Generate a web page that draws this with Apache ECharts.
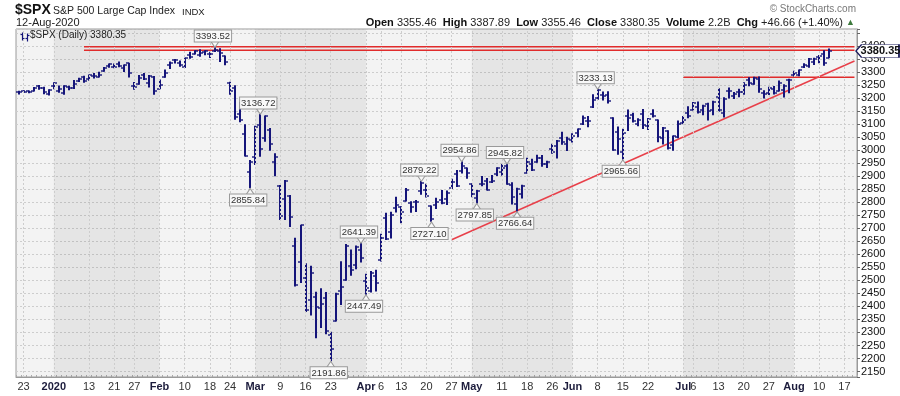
<!DOCTYPE html>
<html><head><meta charset="utf-8">
<script src="https://cdn.jsdelivr.net/npm/echarts@6/dist/echarts.min.js"></script>
<style>html,body{margin:0;padding:0;background:#fff}#c{width:900px;height:396px}</style>
</head><body><div id="c"></div>
<script>
const dates = [
'2019-12-20','2019-12-23','2019-12-24','2019-12-26','2019-12-27','2019-12-30','2019-12-31',
'2020-01-02','2020-01-03','2020-01-06','2020-01-07','2020-01-08','2020-01-09','2020-01-10','2020-01-13','2020-01-14','2020-01-15','2020-01-16','2020-01-17','2020-01-21','2020-01-22','2020-01-23','2020-01-24','2020-01-27','2020-01-28','2020-01-29','2020-01-30','2020-01-31',
'2020-02-03','2020-02-04','2020-02-05','2020-02-06','2020-02-07','2020-02-10','2020-02-11','2020-02-12','2020-02-13','2020-02-14','2020-02-18','2020-02-19','2020-02-20','2020-02-21','2020-02-24','2020-02-25','2020-02-26','2020-02-27','2020-02-28',
'2020-03-02','2020-03-03','2020-03-04','2020-03-05','2020-03-06','2020-03-09','2020-03-10','2020-03-11','2020-03-12','2020-03-13','2020-03-16','2020-03-17','2020-03-18','2020-03-19','2020-03-20','2020-03-23','2020-03-24','2020-03-25','2020-03-26','2020-03-27','2020-03-30','2020-03-31',
'2020-04-01','2020-04-02','2020-04-03','2020-04-06','2020-04-07','2020-04-08','2020-04-09','2020-04-13','2020-04-14','2020-04-15','2020-04-16','2020-04-17','2020-04-20','2020-04-21','2020-04-22','2020-04-23','2020-04-24','2020-04-27','2020-04-28','2020-04-29','2020-04-30',
'2020-05-01','2020-05-04','2020-05-05','2020-05-06','2020-05-07','2020-05-08','2020-05-11','2020-05-12','2020-05-13','2020-05-14','2020-05-15','2020-05-18','2020-05-19','2020-05-20','2020-05-21','2020-05-22','2020-05-26','2020-05-27','2020-05-28','2020-05-29',
'2020-06-01','2020-06-02','2020-06-03','2020-06-04','2020-06-05','2020-06-08','2020-06-09','2020-06-10','2020-06-11','2020-06-12','2020-06-15','2020-06-16','2020-06-17','2020-06-18','2020-06-19','2020-06-22','2020-06-23','2020-06-24','2020-06-25','2020-06-26','2020-06-29','2020-06-30',
'2020-07-01','2020-07-02','2020-07-06','2020-07-07','2020-07-08','2020-07-09','2020-07-10','2020-07-13','2020-07-14','2020-07-15','2020-07-16','2020-07-17','2020-07-20','2020-07-21','2020-07-22','2020-07-23','2020-07-24','2020-07-27','2020-07-28','2020-07-29','2020-07-30','2020-07-31',
'2020-08-03','2020-08-04','2020-08-05','2020-08-06','2020-08-07','2020-08-10','2020-08-11','2020-08-12'];
const futureDates = ['2020-08-13','2020-08-14','2020-08-17','2020-08-18','2020-08-19'];

const opens = [3223.33,3226.05,3225.45,3227.20,3247.23,3240.09,3215.18,
3244.67,3226.36,3217.55,3241.86,3238.59,3266.03,3281.81,3271.13,3285.35,3282.27,3302.97,3323.66,3321.03,3330.02,3315.77,3333.10,3247.16,3255.35,3289.46,3256.45,3282.33,
3235.66,3280.61,3324.91,3344.92,3335.54,3318.28,3365.87,3370.50,3365.90,3378.08,3369.04,3380.39,3380.45,3360.50,3257.61,3238.94,3139.90,3062.54,2916.90,
2974.28,3096.46,3045.75,3075.70,2954.20,2863.89,2813.48,2825.60,2630.86,2569.99,2508.59,2425.66,2436.50,2393.48,2431.94,2290.71,2344.44,2457.77,2501.29,2555.87,2558.98,2614.69,
2498.08,2458.54,2514.92,2578.28,2738.65,2685.00,2776.99,2782.46,2805.10,2795.64,2799.34,2842.43,2845.62,2784.81,2787.89,2810.42,2812.64,2854.65,2909.96,2918.46,2930.91,
2869.09,2815.01,2868.88,2883.14,2878.26,2908.83,2915.46,2939.50,2865.86,2794.54,2829.95,2913.86,2948.59,2953.63,2969.95,2948.05,3004.08,3015.65,3046.61,3025.17,
3038.78,3064.78,3098.90,3111.56,3163.84,3199.92,3213.32,3213.42,3123.53,3071.04,2993.76,3131.00,3136.13,3101.64,3140.29,3094.42,3138.70,3114.40,3046.60,3073.20,3018.59,3050.20,
3105.92,3143.64,3155.29,3166.44,3153.07,3176.17,3152.47,3205.08,3141.11,3225.98,3208.36,3224.21,3224.29,3268.52,3254.86,3271.64,3218.58,3219.84,3234.27,3227.22,3231.76,3270.45,
3288.26,3289.92,3317.37,3323.17,3340.05,3356.04,3370.34,3355.46];
const highs = [3225.65,3227.78,3226.43,3240.08,3247.93,3240.92,3231.72,
3258.14,3246.15,3246.84,3244.91,3267.07,3275.58,3282.99,3288.13,3294.25,3298.66,3317.11,3329.88,3329.79,3337.77,3326.88,3333.18,3258.85,3285.78,3293.47,3285.91,3282.33,
3268.44,3306.92,3337.58,3347.96,3341.42,3352.26,3375.63,3381.47,3385.09,3380.69,3375.01,3393.52,3389.15,3360.76,3259.81,3246.99,3182.51,3097.07,2959.72,
3090.96,3136.72,3130.97,3083.04,2985.93,2863.89,2882.59,2825.60,2660.95,2711.33,2562.98,2553.93,2453.57,2466.97,2453.01,2300.73,2449.71,2571.42,2637.01,2615.91,2631.80,2641.39,
2522.75,2533.22,2538.18,2676.85,2756.89,2760.75,2818.57,2782.46,2851.85,2801.88,2806.51,2879.22,2868.98,2785.54,2815.10,2844.90,2842.71,2887.72,2921.15,2954.86,2930.91,
2869.09,2844.24,2898.23,2891.11,2901.92,2932.16,2944.25,2945.82,2874.14,2852.80,2865.01,2968.09,2964.21,2980.29,2978.50,2956.76,3021.72,3036.25,3068.67,3049.17,
3062.18,3081.07,3130.94,3128.91,3211.72,3233.13,3222.71,3223.27,3123.53,3088.42,3079.76,3153.45,3141.16,3120.00,3155.53,3120.92,3154.90,3115.01,3086.25,3073.73,3053.89,3111.51,
3128.44,3165.81,3182.59,3184.15,3171.80,3179.78,3186.82,3235.32,3200.95,3238.28,3220.39,3233.52,3258.61,3277.29,3279.32,3279.99,3227.26,3241.43,3243.72,3264.74,3250.92,3272.17,
3302.73,3306.84,3330.77,3351.03,3352.54,3363.29,3381.01,3387.89];
const lows = [3216.03,3222.30,3220.51,3227.20,3234.37,3216.57,3212.03,
3235.53,3222.34,3214.64,3232.43,3236.67,3263.67,3260.86,3268.43,3277.19,3280.69,3302.82,3318.86,3316.61,3320.04,3301.87,3281.53,3234.50,3253.22,3271.89,3242.80,3214.68,
3235.66,3280.61,3313.75,3334.39,3322.12,3317.77,3352.72,3369.72,3360.52,3366.15,3355.61,3378.83,3341.02,3328.45,3214.65,3118.77,3108.99,2977.39,2855.84,
2945.19,2976.63,3034.38,2999.83,2901.54,2734.43,2734.00,2707.22,2478.86,2492.37,2380.94,2367.04,2280.52,2319.78,2295.56,2191.86,2344.44,2407.53,2500.72,2520.02,2545.28,2571.15,
2447.49,2455.79,2459.96,2574.57,2657.67,2663.30,2762.36,2721.17,2805.10,2761.54,2764.32,2830.88,2820.43,2727.10,2775.95,2794.26,2791.76,2852.89,2860.71,2912.16,2892.47,
2821.61,2797.85,2863.55,2847.65,2876.48,2902.88,2903.44,2869.59,2793.15,2766.64,2816.78,2913.86,2922.35,2953.63,2938.57,2933.59,2988.17,2969.75,3023.40,2998.61,
3031.54,3051.64,3098.90,3090.41,3163.84,3196.00,3193.11,3181.49,2999.49,2984.47,2965.66,3076.06,3108.03,3093.51,3083.11,3079.39,3127.12,3032.13,3024.01,3004.63,2999.74,3047.83,
3101.17,3124.52,3155.29,3142.93,3136.53,3115.70,3136.22,3149.43,3127.66,3200.76,3198.59,3205.65,3215.16,3247.77,3253.10,3222.66,3200.05,3214.25,3216.17,3227.22,3204.13,3220.26,
3284.53,3286.37,3317.37,3318.14,3328.72,3335.44,3326.44,3355.46];
const closes = [3221.22,3224.01,3223.38,3239.91,3240.02,3221.29,3230.78,
3257.85,3234.85,3246.28,3237.18,3253.05,3274.70,3265.35,3288.13,3283.15,3289.29,3316.81,3329.62,3320.79,3321.75,3325.54,3295.47,3243.63,3276.24,3273.40,3283.66,3225.52,
3248.92,3297.59,3334.69,3345.78,3327.71,3352.09,3357.75,3379.45,3373.94,3380.16,3370.29,3386.15,3373.23,3337.75,3225.89,3128.21,3116.39,2978.76,2954.22,
3090.23,3003.37,3130.12,3023.94,2972.37,2746.56,2882.23,2741.38,2480.64,2711.02,2386.13,2529.19,2398.10,2409.39,2304.92,2237.40,2447.33,2475.56,2630.07,2541.47,2626.65,2584.59,
2470.50,2526.90,2488.65,2663.68,2659.41,2749.98,2789.82,2761.63,2846.06,2783.36,2799.55,2874.56,2823.16,2736.56,2799.31,2797.80,2836.74,2878.48,2863.39,2939.51,2912.43,
2830.71,2842.74,2868.44,2848.42,2881.19,2929.80,2930.32,2870.12,2820.00,2852.50,2863.70,2953.91,2922.94,2971.61,2948.51,2955.45,2991.77,3036.13,3029.73,3044.31,
3055.73,3080.82,3122.87,3112.35,3193.93,3232.39,3207.18,3190.14,3002.10,3041.31,3066.59,3124.74,3113.49,3115.34,3097.74,3117.86,3131.29,3050.33,3083.76,3009.05,3053.24,3100.29,
3115.86,3130.01,3179.72,3145.32,3169.94,3152.05,3185.04,3155.22,3197.52,3226.56,3215.57,3224.73,3251.84,3257.30,3276.02,3235.66,3215.63,3239.41,3218.44,3258.44,3246.22,3271.12,
3294.61,3306.51,3327.77,3349.16,3351.28,3360.47,3333.69,3380.35];

const tickLabels = {
'2019-12-23':'23','2020-01-02':'2020','2020-01-13':'13','2020-01-21':'21','2020-01-27':'27',
'2020-02-03':'Feb','2020-02-10':'10','2020-02-18':'18','2020-02-24':'24',
'2020-03-02':'Mar','2020-03-09':'9','2020-03-16':'16','2020-03-23':'23',
'2020-04-01':'Apr','2020-04-06':'6','2020-04-13':'13','2020-04-20':'20','2020-04-27':'27',
'2020-05-01':'May','2020-05-11':'11','2020-05-18':'18','2020-05-26':'26',
'2020-06-01':'Jun','2020-06-08':'8','2020-06-15':'15','2020-06-22':'22',
'2020-07-01':'Jul','2020-07-06':'6','2020-07-13':'13','2020-07-20':'20','2020-07-27':'27',
'2020-08-03':'Aug','2020-08-10':'10','2020-08-17':'17'};
const boldTicks = ['2020','Feb','Mar','Apr','May','Jun','Jul','Aug'];
const monthBands = [['2020-01-02','2020-02-03'],['2020-03-02','2020-04-01'],['2020-05-01','2020-06-01'],['2020-07-01','2020-08-03']];

const annotations = [
['2020-02-19',3393.52,'high'],['2020-03-03',3136.72,'high'],['2020-02-28',2855.84,'low'],
['2020-03-23',2191.86,'low'],['2020-03-31',2641.39,'high'],['2020-04-01',2447.49,'low'],
['2020-04-17',2879.22,'high'],['2020-04-21',2727.10,'low'],['2020-04-29',2954.86,'high'],
['2020-05-04',2797.85,'low'],['2020-05-12',2945.82,'high'],['2020-05-14',2766.64,'low'],
['2020-06-08',3233.13,'high'],['2020-06-15',2965.66,'low']];

const resistanceTop = 3397, resistanceLow = 3383, resistanceStart = '2020-01-10';
const julyLevel = 3280, julyStart = '2020-07-01';
const trendLine = [['2020-04-27',2656],['2020-08-19',3342]];
const lastClose = 3380.35;
const yMin = 2129, yMax = 3465, yLabelMax = 3400;

const categories = dates.concat(futureDates);
const lastCat = categories[categories.length-1];
const FONT = 'Liberation Sans, Arial, sans-serif';
const ohlc = dates.map((d,i)=>[i, opens[i], highs[i], lows[i], closes[i]]);

const chart = echarts.init(document.getElementById('c'), null, {renderer:'canvas'});
const boxLabel = {fontSize:9.5, fontFamily:FONT, color:'#333', backgroundColor:'#f8f8f8', borderColor:'#9a9a9a', borderWidth:1, padding:[1,1,0,1], lineHeight:10};

chart.setOption({
  animation:false,
  title:[
    {text:'$SPX', left:15, top:3, padding:0, textStyle:{fontSize:14, fontWeight:'bold', color:'#111', fontFamily:FONT}},
    {text:'S&P 500 Large Cap Index', left:53, top:6, padding:0, textStyle:{fontSize:10.5, fontWeight:'normal', color:'#222', fontFamily:FONT}},
    {text:'INDX', left:182, top:7, padding:0, textStyle:{fontSize:9.5, fontWeight:'normal', color:'#222', fontFamily:FONT}},
    {text:'12-Aug-2020', left:16, top:17, padding:0, textStyle:{fontSize:11, fontWeight:'normal', color:'#222', fontFamily:FONT}},
    {text:'© StockCharts.com', right:44, top:4, padding:0, textStyle:{fontSize:10, fontWeight:'normal', color:'#777', fontFamily:FONT}},
    {text:'{b|Open} 3355.46  {b|High} 3387.89  {b|Low} 3355.46  {b|Close} 3380.35  {b|Volume} 2.2B  {b|Chg} +46.66 (+1.40%) {g|▲}',
     right:45, top:17, padding:0,
     textStyle:{fontSize:11, fontWeight:'normal', color:'#222', fontFamily:FONT,
       rich:{b:{fontSize:11, fontWeight:'bold', color:'#111', fontFamily:FONT}, g:{fontSize:9, color:'#3d7a3d'}}}},
    {text:'$SPX (Daily) 3380.35', left:30, top:30, padding:0, textStyle:{fontSize:10, fontWeight:'normal', color:'#222', fontFamily:FONT}}
  ],
  graphic:[
    {type:'group', left:18, top:30, children:[
      {type:'line', shape:{x1:2,y1:0,x2:2,y2:8}, style:{stroke:'#15157a', lineWidth:1.2}},
      {type:'line', shape:{x1:0,y1:2,x2:2,y2:2}, style:{stroke:'#15157a', lineWidth:1.2}},
      {type:'line', shape:{x1:2,y1:6,x2:4,y2:6}, style:{stroke:'#15157a', lineWidth:1.2}},
      {type:'line', shape:{x1:7,y1:1,x2:7,y2:9}, style:{stroke:'#15157a', lineWidth:1.2}},
      {type:'line', shape:{x1:5,y1:6,x2:7,y2:6}, style:{stroke:'#15157a', lineWidth:1.2}},
      {type:'line', shape:{x1:7,y1:3,x2:9,y2:3}, style:{stroke:'#15157a', lineWidth:1.2}}
    ]}
  ],
  grid:{left:16, right:43, top:29, bottom:19, show:true, backgroundColor:'#f3f3f3', borderColor:'#9a9a9a', borderWidth:1},
  xAxis:{
    type:'category', data:categories, boundaryGap:true,
    axisLine:{show:true, lineStyle:{color:'#9a9a9a'}},
    axisTick:{show:true, interval:0, inside:true, length:2, lineStyle:{color:'#aaa'}},
    splitLine:{show:false},
    axisLabel:{
      interval:(idx,val)=>tickLabels[val]!==undefined,
      margin:4,
      formatter:(val)=>{const t=tickLabels[val]; if(t===undefined) return ''; return boldTicks.includes(t)?'{b|'+t+'}':'{n|'+t+'}';},
      rich:{b:{fontSize:11, fontWeight:'bold', color:'#1c1c3c', fontFamily:FONT}, n:{fontSize:11, color:'#333', fontFamily:FONT}}
    }
  },
  yAxis:{
    type:'value', position:'right', min:yMin, max:yMax, splitNumber:27, scale:true,
    axisLine:{show:true, lineStyle:{color:'#9a9a9a'}},
    axisTick:{show:true, length:3, lineStyle:{color:'#666'}},
    axisLabel:{margin:4, fontSize:11, color:'#111', fontFamily:FONT, formatter:(v)=> (Math.abs(v%50)<1e-6 && v<=yLabelMax ? String(v) : '')},
    splitLine:{show:true, lineStyle:{color:'#cdcdcd', type:[2,2], width:1}}
  },
  series:[
    {name:'bands', type:'line', data:[], z:1, silent:true,
     markArea:{silent:true, itemStyle:{color:'rgba(0,0,0,0.055)'}, data:monthBands.map(([a,b])=>[{xAxis:a},{xAxis:b}])}},
    {name:'vgrid', type:'line', data:[], z:1, silent:true,
     markLine:{silent:true, symbol:['none','none'], label:{show:false}, lineStyle:{color:'#cdcdcd', type:[2,2], width:1},
       data:Object.keys(tickLabels).map(d=>({xAxis:d}))}},
    {name:'resTop', type:'line', z:3, showSymbol:false, silent:true, lineStyle:{color:'#e02b2b', width:1.5},
     data:[[resistanceStart,resistanceTop],[lastCat,resistanceTop]]},
    {name:'resLow', type:'line', z:3, showSymbol:false, silent:true, lineStyle:{color:'#e02b2b', width:1.5},
     data:[[resistanceStart,resistanceLow],[lastCat,resistanceLow]]},
    {name:'julyLevel', type:'line', z:3, showSymbol:false, silent:true, lineStyle:{color:'#e02b2b', width:1.5},
     data:[[julyStart,julyLevel],[lastCat,julyLevel]]},
    {name:'trend', type:'line', z:3, showSymbol:false, silent:true, lineStyle:{color:'#e8404a', width:1.5},
     data:trendLine},
    {name:'SPX', type:'custom', z:4, data:ohlc, encode:{x:0, y:[1,2,3,4]},
     renderItem:(params, api)=>{
       const i = api.value(0);
       const o = api.coord([i, api.value(1)]);
       const h = api.coord([i, api.value(2)]);
       const l = api.coord([i, api.value(3)]);
       const c = api.coord([i, api.value(4)]);
       const x = Math.round(h[0]);
       const st = {stroke:'#15157a', lineWidth:2};
       return {type:'group', children:[
         {type:'line', shape:{x1:x, y1:h[1]-0.6, x2:x, y2:l[1]+0.6}, style:st},
         {type:'line', shape:{x1:x-3, y1:Math.round(o[1]), x2:x, y2:Math.round(o[1])}, style:{stroke:'#15157a', lineWidth:1.4}},
         {type:'line', shape:{x1:x, y1:Math.round(c[1]), x2:x+3, y2:Math.round(c[1])}, style:{stroke:'#15157a', lineWidth:1.4}}
       ]};
     }},
    {name:'annotations', type:'line', data:[], z:6, silent:true,
     markPoint:{silent:true, data: annotations.map(([d,v,kind])=>{
       const hi = kind==='high';
       return {coord:[d,v],
         symbol: hi ? 'path://M0,0L8,0L4,6Z' : 'path://M4,0L8,6L0,6Z',
         symbolSize:[8,6], symbolOffset:[0, hi?-3.2:3.8],
         itemStyle:{color:'#f8f8f8', borderColor:'#9a9a9a', borderWidth:1},
         label:Object.assign({show:true, formatter:v.toFixed(2), position: hi?'top':'bottom', distance:-0.5, offset:[-2,0]}, boxLabel)};
     })}},
    {name:'lastTag', type:'line', data:[], z:7, silent:true,
     markPoint:{silent:true, data:[{coord:[lastCat,lastClose],
       symbol:'path://M0,6.5L6,0L46,0L46,13L6,13Z', symbolSize:[43,13], symbolKeepAspect:false,
       symbolOffset:[23,0],
       itemStyle:{color:'#ffffff', borderColor:'#1a1a5a', borderWidth:1},
       label:{show:true, position:'inside', offset:[3,0], formatter:lastClose.toFixed(2), fontSize:11, fontWeight:'bold', color:'#111', fontFamily:FONT}}]}}
  ]
});
</script>
</body></html>
